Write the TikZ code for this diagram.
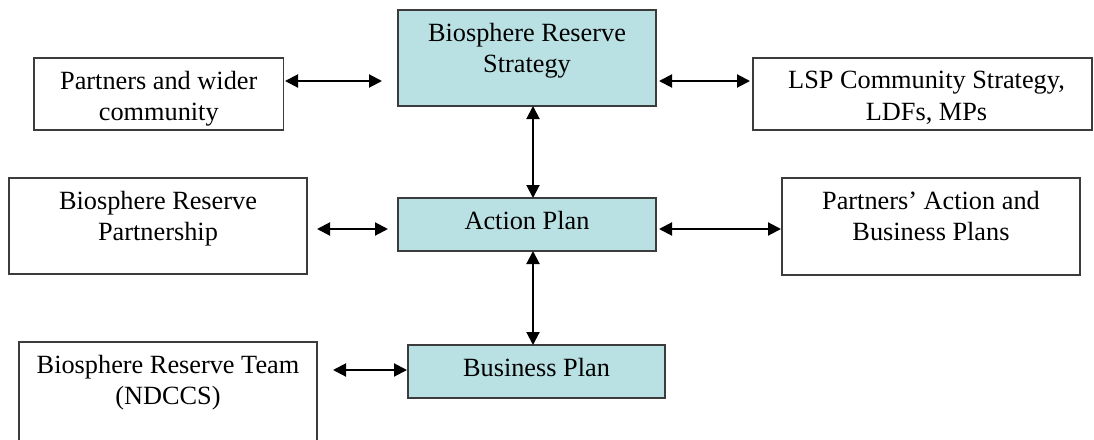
\documentclass[tikz,border=0pt]{standalone}
\usepackage{fontspec}
\setmainfont{Liberation Serif}
\usetikzlibrary{arrows.meta}
\definecolor{planfill}{RGB}{185,224,227}
\definecolor{edgegray}{RGB}{60,60,60}
\tikzset{
  plainbox/.style={draw=edgegray, line width=1.2pt, fill=white, inner sep=0pt, outer sep=0pt, rectangle},
  planbox/.style={plainbox, fill=planfill},
  lbl/.style={anchor=north, inner sep=0pt, align=center,
              font=\fontsize{26.3}{31.5}\selectfont},
  conn/.style={line width=2pt, {Triangle[length=13pt,width=13pt]}-{Triangle[length=13pt,width=13pt]}}
}
\begin{document}
\begin{tikzpicture}[x=1pt,y=-1pt]
\useasboundingbox (0,0) rectangle (1094,439);

% central column of plans
\node[planbox, minimum width=258pt, minimum height=96pt] (S) at (527,58) {};
\node[planbox, minimum width=258pt, minimum height=53pt] (A) at (527,224.5) {};
\node[planbox, minimum width=257pt, minimum height=53pt] (B) at (536.5,371.5) {};

% surrounding bodies and documents
\node[plainbox, minimum width=249.5pt, minimum height=72pt] (P) at (158.75,94) {};
\node[plainbox, minimum width=339pt, minimum height=72pt] (L) at (922.5,94) {};
\node[plainbox, minimum width=298pt, minimum height=96pt] (R) at (158,226) {};
\node[plainbox, minimum width=298pt, minimum height=97pt] (Q) at (931,226.5) {};
\node[plainbox, minimum width=298pt, minimum height=120pt] (T) at (168,402) {};

% labels, first baseline about 31pt below each top edge
\node[lbl] at ([yshift=-13pt]S.north) {Biosphere Reserve\\Strategy};
\node[lbl] at ([yshift=-13pt]A.north) {Action Plan};
\node[lbl] at ([yshift=-13pt]B.north) {Business Plan};
\node[lbl] at ([yshift=-13pt]P.north) {Partners and wider\\community};
\node[lbl] at ([yshift=-13pt,xshift=4pt]L.north) {LSP Community Strategy,\\LDFs, MPs};
\node[lbl] at ([yshift=-13pt]R.north) {Biosphere Reserve\\Partnership};
\node[lbl] at ([yshift=-13pt]Q.north) {Partners’ Action and\\Business Plans};
\node[lbl] at ([yshift=-13pt]T.north) {Biosphere Reserve Team\\(NDCCS)};

% rows and column of the connectors
\coordinate (row1) at (0,81);
\coordinate (row2) at (0,229);
\coordinate (row3) at (0,370);
\coordinate (col) at (533,0);

\draw[conn, shorten <=1.5pt, shorten >=16pt] (P.east |- row1) -- (S.west |- row1);
\draw[conn, shorten <=3pt, shorten >=3pt] (S.east |- row1) -- (L.west |- row1);
\draw[conn, shorten <=10pt, shorten >=10pt] (R.east |- row2) -- (A.west |- row2);
\draw[conn, shorten <=3pt, shorten >=1pt] (A.east |- row2) -- (Q.west |- row2);
\draw[conn, shorten <=16pt, shorten >=1pt] (T.east |- row3) -- (B.west |- row3);
\draw[conn] (S.south -| col) -- (A.north -| col);
\draw[conn] (A.south -| col) -- (B.north -| col);
\end{tikzpicture}
\end{document}
